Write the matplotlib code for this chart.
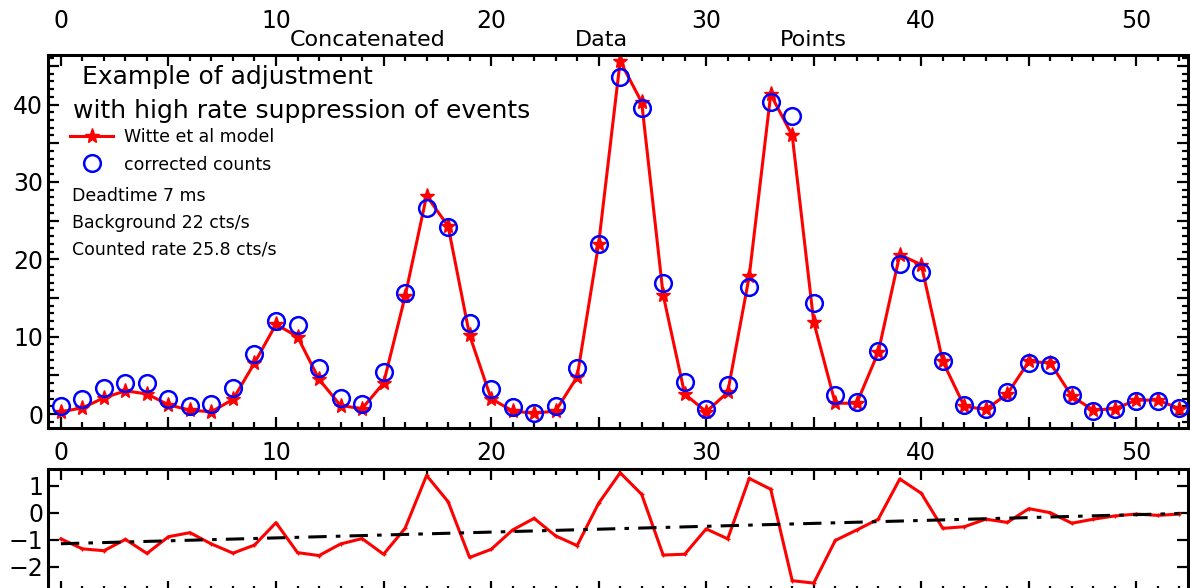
import matplotlib
matplotlib.use("Agg")
import matplotlib.pyplot as plt
from matplotlib.ticker import MultipleLocator, FuncFormatter

# concatenated data points, index 0..52
model = [0.3, 0.8, 2.1, 3.0, 2.6, 1.2, 0.5, 0.3, 1.9, 6.6, 11.6, 10.0, 4.5, 1.1,
         0.7, 4.0, 15.2, 28.2, 24.3, 10.2, 2.0, 0.4, 0.1, 0.4, 4.8, 22.0, 45.6,
         40.3, 15.4, 2.6, 0.3, 2.8, 17.8, 41.3, 36.0, 11.9, 1.4, 1.4, 8.0, 20.6,
         19.3, 6.8, 1.0, 0.6, 2.6, 6.8, 6.6, 2.3, 0.5, 0.7, 1.8, 1.8, 0.7]
counts = [1.0, 2.0, 3.4, 4.0, 4.0, 2.0, 1.0, 1.3, 3.4, 7.7, 12.0, 11.5, 5.9, 2.1,
          1.3, 5.4, 15.6, 26.6, 24.2, 11.8, 3.3, 0.9, 0.2, 1.1, 6.0, 22.0, 43.6,
          39.5, 17.0, 4.1, 0.6, 3.7, 16.4, 40.3, 38.5, 14.4, 2.4, 1.6, 8.2, 19.4,
          18.4, 6.8, 1.2, 0.6, 2.8, 6.6, 6.4, 2.4, 0.4, 0.6, 1.7, 1.7, 0.8]
residuals = [-0.96, -1.33, -1.40, -0.98, -1.50, -0.88, -0.73, -1.15, -1.49, -1.19,
             -0.36, -1.47, -1.58, -1.15, -0.95, -1.53, -0.57, 1.39, 0.42, -1.65,
             -1.35, -0.63, -0.20, -0.85, -1.21, 0.36, 1.49, 0.69, -1.56, -1.53,
             -0.59, -0.96, 1.28, 0.88, -2.51, -2.60, -1.02, -0.63, -0.23, 1.26,
             0.73, -0.57, -0.51, -0.23, -0.35, 0.16, 0.01, -0.38, -0.23, -0.11,
             -0.04, -0.09, -0.04]
trend_x = [0, 52]
trend_y = [-1.14, -0.02]

info_lines = ["Deadtime 7 ms", "Background 22 cts/s", "Counted rate 25.8 cts/s"]
title_lines = ["Example of adjustment", "with high rate suppression of events"]
xlabel_words = ["Concatenated", "Data", "Points"]

idx = list(range(len(model)))

plt.rcParams["font.family"] = "DejaVu Sans"
W, H = 1190, 588
fig = plt.figure(figsize=(W / 100, H / 100), dpi=100)


def px_axes(left, top, right, bottom):
    return fig.add_axes([left / W, 1 - bottom / H, (right - left) / W, (bottom - top) / H])


def style(ax):
    for s in ax.spines.values():
        s.set_linewidth(2.2)
    ax.tick_params(which="both", direction="in", top=True, right=True,
                   width=1.6, labelsize=17)
    ax.tick_params(which="major", length=8)
    ax.tick_params(which="minor", length=4.5)
    ax.xaxis.set_major_locator(MultipleLocator(5))
    ax.xaxis.set_minor_locator(MultipleLocator(1))
    ax.xaxis.set_major_formatter(
        FuncFormatter(lambda v, p: f"{int(round(v))}" if round(v) % 10 == 0 else ""))


# top panel
ax = px_axes(48, 55, 1188, 428)
style(ax)
ax.set_xlim(-0.6, 52.4)
ax.set_ylim(-1.8, 46.4)
ax.yaxis.set_major_locator(MultipleLocator(5))
ax.yaxis.set_minor_locator(MultipleLocator(1))
ax.yaxis.set_major_formatter(
    FuncFormatter(lambda v, p: f"{int(round(v))}" if round(v) % 10 == 0 else ""))
ax.tick_params(axis="x", labelbottom=False, labeltop=True, pad=16)

ax.plot(idx, model, "-", color="red", lw=2.2, marker="*", ms=11,
        label="Witte et al model", zorder=2)
ax.plot(idx, counts, "o", mfc="none", mec="blue", mew=1.8, ms=12,
        label="corrected counts", zorder=3)

leg = ax.legend(loc="upper left", bbox_to_anchor=(70 / W, 1 - 128 / H),
                bbox_transform=fig.transFigure, frameon=False, fontsize=12.5,
                handlelength=2.5, handletextpad=0.6, labelspacing=0.55,
                borderpad=0, borderaxespad=0)

fig.text(82 / W, 1 - 77 / H, title_lines[0], fontsize=18, va="center")
fig.text(73 / W, 1 - 111 / H, title_lines[1], fontsize=18, va="center")
for k, line in enumerate(info_lines):
    fig.text(72 / W, 1 - (196 + 27 * k) / H, line, fontsize=12.5, va="center")

for word, xc in zip(xlabel_words, [368, 601, 813]):
    fig.text(xc / W, 1 - 40 / H, word, fontsize=16, ha="center", va="center")

# bottom panel (residuals), cut at figure edge
ax2 = px_axes(48, 469, 1188, 592)
style(ax2)
ax2.set_xlim(-0.6, 52.4)
ax2.set_ylim(-2.93, 1.63)
ax2.yaxis.set_major_locator(MultipleLocator(1))
ax2.tick_params(axis="x", labelbottom=False, labeltop=True, pad=3)
ax2.plot(idx, residuals, "-", color="red", lw=2.2, marker="+", ms=3)
ax2.plot(trend_x, trend_y, color="black", lw=2.2, ls=(0, (6, 3, 1.5, 3)))

fig.savefig("out.png", dpi=100)
